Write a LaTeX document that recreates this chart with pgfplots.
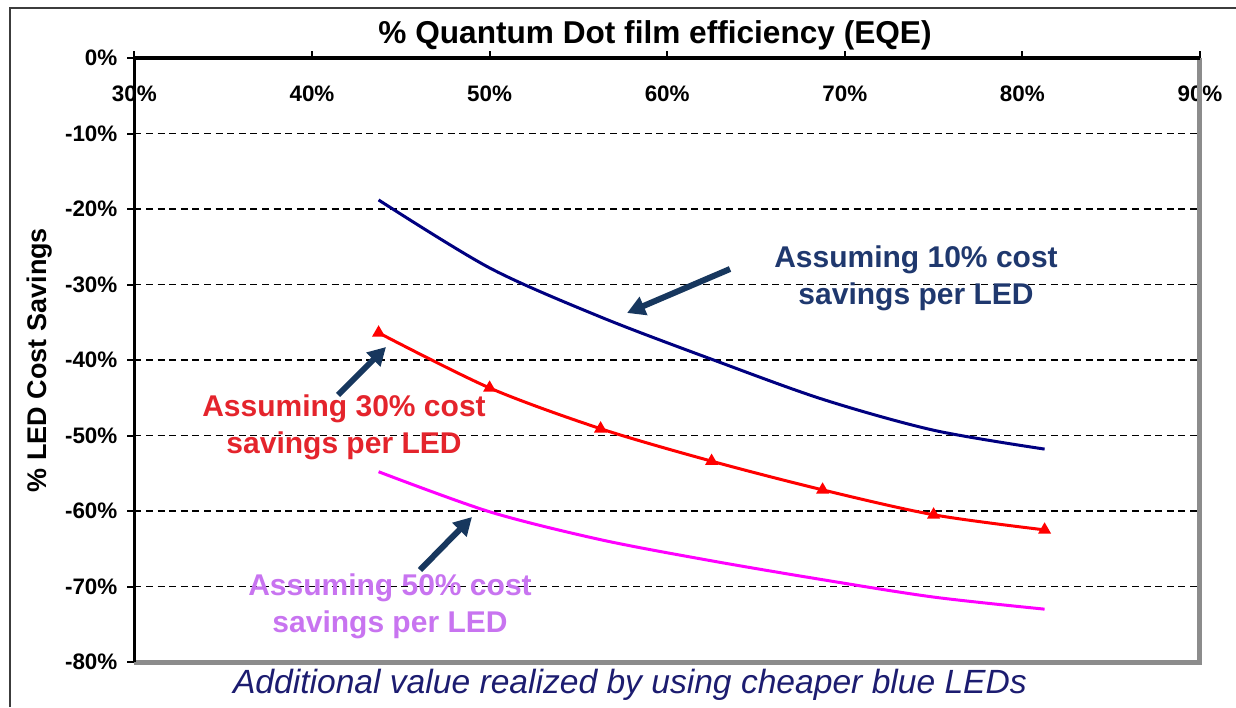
\documentclass[border=0pt]{standalone}
\usepackage{pgfplots}
\pgfplotsset{compat=1.18}
\usepackage{fontspec}
\setmainfont{Liberation Sans}
\usetikzlibrary{arrows.meta}
\definecolor{navyline}{RGB}{0,0,128}
\definecolor{redline}{RGB}{255,0,0}
\definecolor{magline}{RGB}{255,0,255}
\definecolor{arrowblue}{RGB}{23,55,94}
\definecolor{txtblue}{RGB}{31,56,110}
\definecolor{txtred}{RGB}{228,36,44}
\definecolor{txtviolet}{RGB}{200,116,240}
\definecolor{btxt}{RGB}{28,28,112}
\definecolor{framegray}{RGB}{140,140,140}
\definecolor{outer}{RGB}{60,60,60}

\begin{document}
\begin{tikzpicture}
\useasboundingbox (0,0) rectangle (618pt,353.5pt);
\begin{axis}[
  at={(67.2pt,22.5pt)}, anchor=south west,
  scale only axis, width=532.8pt, height=302pt,
  xmin=30, xmax=90, ymin=-80, ymax=0,
  clip=false,
  axis line style={draw=none},
  xtick={30,40,50,60,70,80,90},
  xticklabels={30\%,40\%,50\%,60\%,70\%,80\%,90\%},
  ytick={-80,-70,-60,-50,-40,-30,-20,-10,0},
  yticklabels={-80\%,-70\%,-60\%,-50\%,-40\%,-30\%,-20\%,-10\%,0\%},
  xtick pos=right, xticklabel pos=right,
  ytick pos=left, yticklabel pos=left,
  tick align=outside, major tick length=3.5pt,
  tick style={black, line width=1pt},
  ymajorgrids,
  grid style={black, line width=0.7pt, dash pattern=on 3.5pt off 2.3pt},
  ticklabel style={font=\fontsize{11.2}{13}\selectfont\bfseries},
  xticklabel style={anchor=center, yshift=-21.5pt},
  yticklabel style={xshift=-1.5pt},
]
\draw[framegray, line width=2.5pt] (rel axis cs:1,1) -- (rel axis cs:1,0) -- (rel axis cs:0,0);
\draw[black, line width=1.6pt] (rel axis cs:0,0) -- (rel axis cs:0,1) -- (rel axis cs:1,1);
\addplot[navyline, line width=1.5pt, smooth, no markers] coordinates {
 (43.75,-18.8) (50,-27.8) (56.25,-34.3) (62.5,-39.9) (68.75,-45.2) (75,-49.3) (81.25,-51.8)};
\addplot[redline, line width=1.5pt, smooth, mark=triangle*, mark size=2.3pt, mark options={solid}] coordinates {
 (43.75,-36.4) (50,-43.7) (56.25,-49.1) (62.5,-53.4) (68.75,-57.2) (75,-60.5) (81.25,-62.5)};
\addplot[magline, line width=1.5pt, smooth, no markers] coordinates {
 (43.75,-54.8) (50,-60.1) (56.25,-63.8) (62.5,-66.6) (68.75,-69.1) (75,-71.4) (81.25,-73.0)};
\end{axis}
\begin{scope}[shift={(0pt,353.5pt)}, x=0.5pt, y=-0.5pt]
\draw[outer, line width=1pt] (10,707) -- (10,8) -- (1236,8);
\node[font=\fontsize{15.8}{18}\selectfont\bfseries] at (655,35) {\% Quantum Dot film efficiency (EQE)};
\node[rotate=90, font=\fontsize{13.5}{16}\selectfont\bfseries] at (40,360) {\% LED Cost Savings};
\node[font=\fontsize{16.8}{20}\selectfont\itshape, text=btxt] at (630,685) {Additional value realized by using cheaper blue LEDs};
\node[align=center, text=txtblue, font=\fontsize{15}{18.5}\selectfont\bfseries] at (916,278) {Assuming 10\% cost\\savings per LED};
\node[align=center, text=txtred, font=\fontsize{15}{18.5}\selectfont\bfseries] at (344,427) {Assuming 30\% cost\\savings per LED};
\node[align=center, text=txtviolet, font=\fontsize{15}{18.5}\selectfont\bfseries] at (390,606) {Assuming 50\% cost\\savings per LED};
\draw[arrowblue, line width=3pt, -{Triangle[length=9pt,width=9.5pt]}] (730,269) -- (627,313);
\draw[arrowblue, line width=3pt, -{Triangle[length=9pt,width=9.5pt]}] (338,395) -- (386,347);
\draw[arrowblue, line width=3pt, -{Triangle[length=9pt,width=9.5pt]}] (420,570) -- (472,517);
\end{scope}
\end{tikzpicture}
\end{document}
